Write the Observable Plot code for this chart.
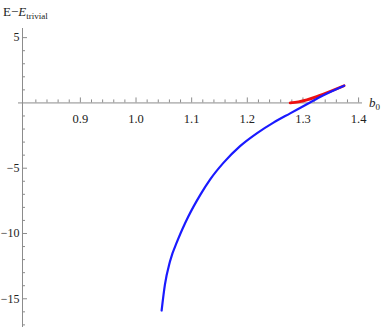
<!DOCTYPE html>
<html>
<head>
<meta charset="utf-8">
<script src="https://cdn.jsdelivr.net/npm/d3@7"></script>
<script src="https://cdn.jsdelivr.net/npm/@observablehq/plot@0.6"></script>
<style>
body { margin: 0; background: #fff; }
#chart { position: relative; width: 382px; height: 327px; }
</style>
</head>
<body>
<div id="chart"></div>
<script>
// Blue curve
const blueX = [1.046, 1.052, 1.061, 1.076, 1.094, 1.116, 1.133, 1.157, 1.187, 1.217, 1.247, 1.277, 1.307, 1.328, 1.374];
const blueY = [-15.9, -13.9, -12.15, -10.4, -8.7, -7.0, -5.87, -4.59, -3.31, -2.33, -1.51, -0.8, -0.1, 0.4, 1.32];
// Red curve
const redX = [1.277, 1.292, 1.307, 1.328, 1.374];
const redY = [0, 0.08, 0.23, 0.54, 1.32];
// Ticks
const xMajor = [0.9, 1.0, 1.1, 1.2, 1.3, 1.4];
const xLabels = ["0.9", "1.0", "1.1", "1.2", "1.3", "1.4"];
const xMinor = d3.range(0.82, 1.405, 0.02).filter(v => Math.abs(Math.round(v * 10) - v * 10) > 1e-6);
const yMajor = [5, -5, -10, -15];
const yLabels = ["5", "\u22125", "\u221210", "\u221215"];
const yMinor = d3.range(-17, 6, 1).filter(v => v % 5 !== 0);

const xDom = [0.796, 1.407];
const yDom = [-17.2, 5.7];
const axisColor = "#8c8c8c";

const blue = blueX.map((x, i) => ({x, y: blueY[i]}));
const red = redX.map((x, i) => ({x, y: redY[i]}));
const xMaj = xMajor.map((x, i) => ({x, label: xLabels[i]}));
const yMaj = yMajor.map((y, i) => ({y, label: yLabels[i]}));

const W = 382, H = 327, mL = 22, mR = 382 - 362, mT = 28, mB = 0;
const pxPerX = (W - mL - mR) / (xDom[1] - xDom[0]);
const pxPerY = (H - mT - mB) / (yDom[1] - yDom[0]);

const plot = Plot.plot({
  width: W, height: H,
  marginLeft: mL, marginRight: mR, marginTop: mT, marginBottom: mB,
  x: {domain: xDom, axis: null},
  y: {domain: yDom, axis: null},
  style: {fontFamily: "'Liberation Serif', serif", background: "white"},
  marks: [
    Plot.ruleY([0], {x1: xDom[0] - 4 / pxPerX, x2: xDom[1], stroke: axisColor, strokeWidth: 1}),
    Plot.ruleX([xDom[0]], {y1: yDom[0], y2: yDom[1], stroke: axisColor, strokeWidth: 1}),
    Plot.ruleX(xMaj, {x: "x", y1: 0, y2: 5 / pxPerY, stroke: axisColor}),
    Plot.ruleX(xMinor, {x: d => d, y1: 0, y2: 3 / pxPerY, stroke: axisColor}),
    Plot.ruleY(yMaj, {y: "y", x1: xDom[0], x2: xDom[0] + 5 / pxPerX, stroke: axisColor}),
    Plot.ruleY(yMinor, {y: d => d, x1: xDom[0], x2: xDom[0] + 3 / pxPerX, stroke: axisColor}),
    Plot.text(xMaj, {x: "x", y: 0, text: "label", dy: 16, fontSize: 12.5, fill: "#222", fontFamily: "'Liberation Serif', serif"}),
    Plot.text(yMaj, {y: "y", x: xDom[0], text: "label", dx: -3, textAnchor: "end", fontSize: 12, fill: "#222", fontFamily: "'Liberation Serif', serif"}),
    Plot.line(red, {x: "x", y: "y", stroke: "#ee1111", strokeWidth: 2.8, curve: "monotone-x"}),
    Plot.line(blue, {x: "x", y: "y", stroke: "#1a1aff", strokeWidth: 2.2, curve: "monotone-x"})
  ]
});
document.getElementById("chart").appendChild(plot);

const svg = d3.select(plot);
const t1 = svg.append("text").attr("x", 3).attr("y", 16).attr("text-anchor", "start")
  .attr("font-family", "'Liberation Serif', serif").attr("font-size", 13).attr("fill", "#222");
t1.append("tspan").text("E\u2212");
t1.append("tspan").attr("font-style", "italic").text("E");
t1.append("tspan").attr("font-size", 9).attr("dy", 3).text("trivial");

const t2 = svg.append("text").attr("x", 369).attr("y", 107).attr("text-anchor", "start")
  .attr("font-family", "'Liberation Serif', serif").attr("font-size", 13).attr("fill", "#222");
t2.append("tspan").attr("font-style", "italic").text("b");
t2.append("tspan").attr("font-size", 9).attr("dy", 3).text("0");
</script>
</body>
</html>
